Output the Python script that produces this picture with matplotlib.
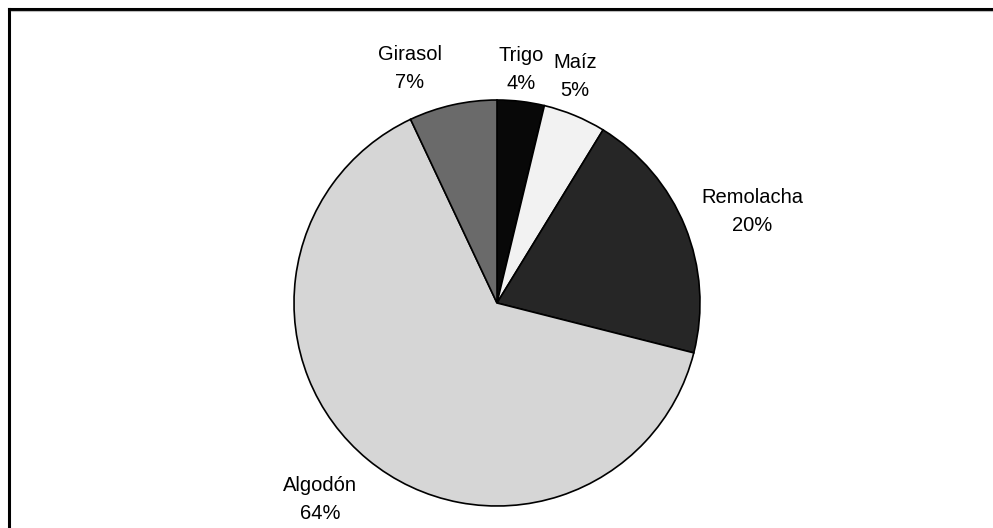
import matplotlib
matplotlib.use("Agg")
import matplotlib.pyplot as plt
from matplotlib.lines import Line2D
import numpy as np

# Data
categories = ["Trigo", "Maíz", "Remolacha", "Algodón", "Girasol"]
values = [3.75, 5.0, 20.2, 64.05, 7.0]
pct_labels = ["4%", "5%", "20%", "64%", "7%"]
colors = ["#080808", "#f2f2f2", "#262626", "#d6d6d6", "#6a6a6a"]

# Layout (label centers in units of pie radius)
label_offsets = [(0.118, 1.150), (0.384, 1.118), (1.256, 0.453), (-0.872, -0.970), (-0.429, 1.155)]

W, H = 993, 528
fig = plt.figure(figsize=(W / 100, H / 100), dpi=100)
fig.patch.set_facecolor("white")

cx, cy, R = 497, 303, 203
ax = fig.add_axes([0, 0, 1, 1])
ax.pie(values, colors=colors, startangle=90, counterclock=False, radius=1,
       wedgeprops=dict(edgecolor="black", linewidth=1.2))
ax.set_aspect("auto")
ax.set_xlim(-cx / R, (W - cx) / R)
ax.set_ylim(-(H - cy) / R, cy / R)
ax.axis("off")

for cat, p, (dx, dy) in zip(categories, pct_labels, label_offsets):
    ax.text(dx, dy, f"{cat}\n{p}", ha="center", va="center", fontsize=14.5,
            family="Liberation Sans", linespacing=1.6, color="black")

# Frame (top and left edges of a chart border extending past the image)
fig.add_artist(Line2D([9 / W, 1.0], [1 - 9 / H, 1 - 9 / H], transform=fig.transFigure,
                      color="black", linewidth=2.2))
fig.add_artist(Line2D([9 / W, 9 / W], [0.0, 1 - 9 / H], transform=fig.transFigure,
                      color="black", linewidth=2.2))
fig.add_artist(Line2D([11 / W, 1.0], [1 - 11 / H, 1 - 11 / H], transform=fig.transFigure,
                      color="#bbbbbb", linewidth=0.8))

fig.savefig("out.png", dpi=100, facecolor="white")
